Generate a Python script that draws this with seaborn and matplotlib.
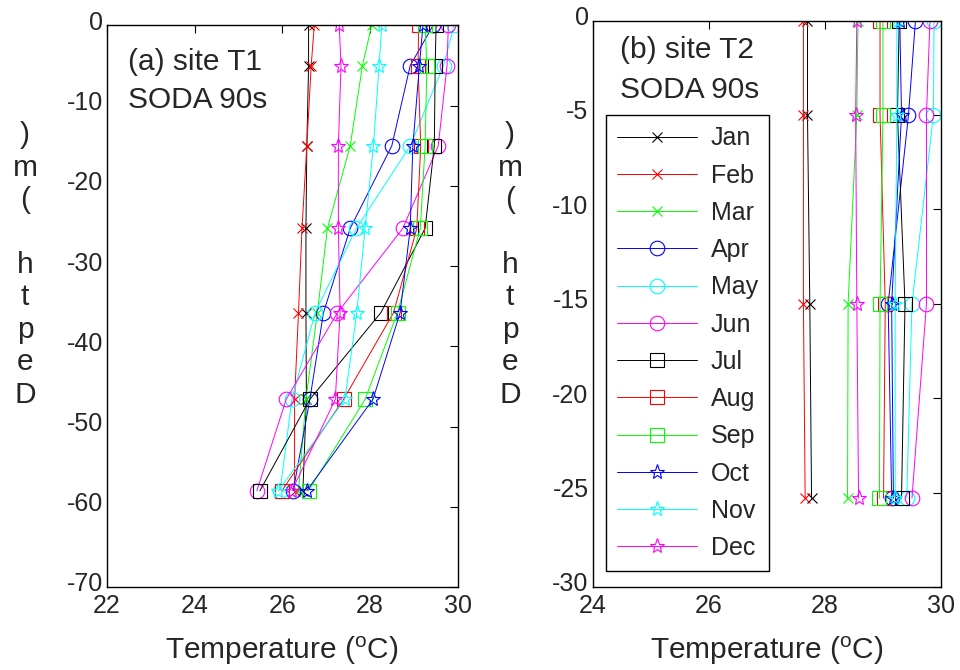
import pandas as pd
import matplotlib
matplotlib.use("Agg")
import matplotlib.pyplot as plt
import matplotlib.transforms as mtransforms
import seaborn as sns

# ---- data ----
months = ["Jan", "Feb", "Mar", "Apr", "May", "Jun",
          "Jul", "Aug", "Sep", "Oct", "Nov", "Dec"]
colors = ["#000000", "#ff0000", "#00ff00", "#0000ff", "#00ffff", "#ff00ff",
          "#000000", "#ff0000", "#00ff00", "#0000ff", "#00ffff", "#ff00ff"]
markers = ["x", "x", "x", "o", "o", "o", "s", "s", "s", "*", "*", "*"]

# site T1 depths (m) and temperatures per month (degC)
depth_t1 = [0, -5, -15, -25.3, -35.8, -46.6, -58]
temp_t1 = {
    "Jan": [26.60, 26.60, 26.56, 26.54, 26.54, 26.55, 26.47],
    "Feb": [26.73, 26.66, 26.56, 26.45, 26.37, 26.28, 26.28],
    "Mar": [28.04, 27.83, 27.55, 27.03, 26.80, 26.54, 26.37],
    "Apr": [29.44, 28.92, 28.50, 27.55, 26.94, 26.63, 26.25],
    "May": [29.92, 29.68, 28.92, 27.69, 26.75, 26.22, 25.95],
    "Jun": [29.79, 29.76, 29.56, 28.75, 27.26, 26.09, 25.42],
    "Jul": [29.51, 29.49, 29.47, 29.26, 28.25, 26.63, 25.49],
    "Aug": [29.11, 29.10, 29.16, 29.07, 28.54, 27.40, 25.99],
    "Sep": [29.26, 29.30, 29.26, 29.15, 28.63, 27.89, 26.60],
    "Oct": [29.21, 29.13, 28.98, 28.92, 28.69, 28.07, 26.56],
    "Nov": [28.27, 28.21, 28.08, 27.89, 27.70, 27.43, 25.91],
    "Dec": [27.30, 27.34, 27.28, 27.28, 27.32, 27.21, 26.22],
}

# site T2
depth_t2 = [0, -5, -15, -25.3]
temp_t2 = {
    "Jan": [27.70, 27.70, 27.74, 27.77],
    "Feb": [27.63, 27.63, 27.63, 27.66],
    "Mar": [28.57, 28.55, 28.40, 28.39],
    "Apr": [29.56, 29.44, 29.09, 29.15],
    "May": [29.88, 29.87, 29.50, 29.41],
    "Jun": [29.81, 29.75, 29.75, 29.50],
    "Jul": [29.28, 29.25, 29.38, 29.32],
    "Aug": [28.95, 28.95, 29.04, 29.01],
    "Sep": [29.00, 29.00, 28.95, 28.94],
    "Oct": [29.29, 29.32, 29.15, 29.18],
    "Nov": [29.24, 29.24, 29.21, 29.21],
    "Dec": [28.55, 28.53, 28.55, 28.58],
}

# ---- style ----
sns.set_style("white")
plt.rcParams["font.family"] = ["Liberation Sans", "DejaVu Sans"]
plt.rcParams["mathtext.default"] = "regular"
plt.rcParams["axes.unicode_minus"] = False
plt.rcParams["xtick.direction"] = "in"
plt.rcParams["ytick.direction"] = "in"

fig = plt.figure(figsize=(9.6, 6.7), dpi=100)
ax1 = fig.add_axes([0.1115, 0.1239, 0.3651, 0.8381])
ax2 = fig.add_axes([0.6174, 0.1239, 0.3628, 0.8455])


def draw(ax, depths, temps):
    for i, mon in enumerate(months):
        ms = {"x": 7, "o": 10.5, "s": 10, "*": 11}[markers[i]]
        sns.lineplot(x=temps[mon], y=depths, sort=False, estimator=None,
                     color=colors[i], marker=markers[i], ms=ms,
                     mfc="none", mec=colors[i], mew=0.8, lw=0.7,
                     label=mon, ax=ax)
    if ax.get_legend() is not None:
        ax.get_legend().remove()
    for s in ax.spines.values():
        s.set_color("black")
        s.set_linewidth(1.0)
    ax.tick_params(labelsize=18, top=True, right=True, length=6,
                   width=0.8, color="black", pad=3)
    ax.tick_params(axis="x", pad=5)
    ax.set_xlabel("Temperature ($^{o}$C)", fontsize=21.5, labelpad=12)
    ax.set_ylabel("")


draw(ax1, depth_t1, temp_t1)
ax1.set_xlim(22, 30)
ax1.set_ylim(-70, 0)
ax1.set_xticks([22, 24, 26, 28, 30])
ax1.set_yticks(range(-70, 1, 10))

draw(ax2, depth_t2, temp_t2)
ax2.set_xlim(24, 30)
ax2.set_ylim(-30, 0)
ax2.set_xticks([24, 26, 28, 30])
ax2.set_yticks(range(-30, 1, 5))

# y tick labels sit a little high in the original
shift = mtransforms.ScaledTranslation(0, 5 / 100, fig.dpi_scale_trans)
for ax in (ax1, ax2):
    for lab in ax.get_yticklabels():
        lab.set_transform(lab.get_transform() + shift)

# legend in the right panel
h, l = ax2.get_legend_handles_labels()
leg = ax2.legend(h, l, loc="upper left", bbox_to_anchor=(0.038, 0.833),
                 borderaxespad=0, fontsize=18, frameon=True, fancybox=False,
                 edgecolor="black", framealpha=1, handlelength=3.2,
                 handletextpad=0.55, labelspacing=0.53, borderpad=0.45,
                 numpoints=1)
leg.get_frame().set_linewidth(1.0)

# panel captions
fig.text(128 / 960, 1 - 62 / 670, "(a) site T1", fontsize=21.5, va="center")
fig.text(128 / 960, 1 - 100 / 670, "SODA 90s", fontsize=21.5, va="center")
fig.text(620 / 960, 1 - 50 / 670, "(b) site T2", fontsize=21.5, va="center")
fig.text(620 / 960, 1 - 90 / 670, "SODA 90s", fontsize=21.5, va="center")

# the stacked (garbled) y labels as in the original
ylab = ")\nm\n(\n \nh\nt\np\ne\nD"
fig.text(25 / 960, 1 - 265 / 670, ylab, fontsize=21.5, ha="center",
         va="center", linespacing=1.2)
fig.text(510 / 960, 1 - 265 / 670, ylab, fontsize=21.5, ha="center",
         va="center", linespacing=1.2)

fig.savefig("out.png", dpi=100)
